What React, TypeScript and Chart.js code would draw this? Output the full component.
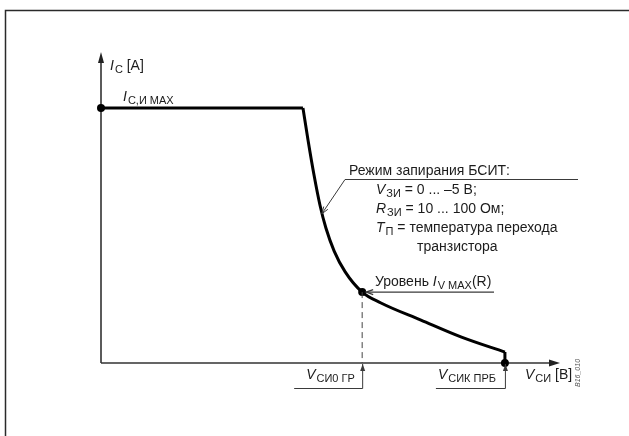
import React, { useEffect, useRef } from "react";
import { Chart, registerables } from "chart.js";

Chart.register(...registerables);

// Schematic data (axis units 0..100 on both axes)
const flatX = [0, 44.0];
const flatY = [82.0, 82.0];
const curveX = [44.0, 45.1, 46.4, 47.7, 49.0, 50.8, 53.2, 56.9, 61.0, 69.7, 78.4, 88.0];
const curveY = [82.0, 71.7, 60.5, 50.8, 43.4, 36.0, 29.3, 22.8, 19.3, 13.8, 8.4, 3.5];
const dropX = [88.0, 88.0];
const dropY = [3.5, 0];
const markerX = [0, 56.9, 88.0];
const markerY = [82.0, 22.8, 0];
const guideX = [56.9, 56.9];
const guideY = [22.8, 0];
const leaderTarget = [47.9, 48.0];
const axisMax = 100;

const FONT = '"Liberation Sans", Arial, sans-serif';
const TEXT = "#1c1c1c";

const pts = (xs: number[], ys: number[]) => xs.map((x, i) => ({ x, y: ys[i] }));

type Seg = { t: string; italic?: boolean; sub?: boolean };

function drawRich(ctx: CanvasRenderingContext2D, x: number, y: number, segs: Seg[], base = 14) {
  let cx = x;
  ctx.textBaseline = "alphabetic";
  ctx.textAlign = "left";
  ctx.fillStyle = TEXT;
  for (const s of segs) {
    const size = s.sub ? Math.round(base * 0.8) : base;
    ctx.font = `${s.italic ? "italic " : ""}${size}px ${FONT}`;
    ctx.fillText(s.t, cx, y + (s.sub ? 3 : 0));
    cx += ctx.measureText(s.t).width + (s.italic ? 1 : 0);
  }
}

function arrowHead(ctx: CanvasRenderingContext2D, tx: number, ty: number, fx: number, fy: number, len: number, half: number, filled: boolean) {
  const a = Math.atan2(ty - fy, tx - fx);
  const bx = tx - len * Math.cos(a);
  const by = ty - len * Math.sin(a);
  const px = -Math.sin(a) * half;
  const py = Math.cos(a) * half;
  ctx.beginPath();
  ctx.moveTo(bx + px, by + py);
  ctx.lineTo(tx, ty);
  ctx.lineTo(bx - px, by - py);
  if (filled) {
    ctx.closePath();
    ctx.fill();
  } else {
    ctx.stroke();
  }
}

const decor = {
  id: "decor",
  beforeDatasetsDraw(chart: any) {
    const ctx: CanvasRenderingContext2D = chart.ctx;
    const xs = chart.scales.x;
    const ys = chart.scales.y;
    const x0 = xs.getPixelForValue(0);
    const y0 = ys.getPixelForValue(0);
    const xm = xs.getPixelForValue(axisMax);
    const ym = ys.getPixelForValue(axisMax);
    ctx.save();
    // frame
    ctx.strokeStyle = "#2a2a2a";
    ctx.lineWidth = 1.5;
    ctx.beginPath();
    ctx.moveTo(5.5, 460);
    ctx.lineTo(5.5, 10.5);
    ctx.lineTo(660, 10.5);
    ctx.stroke();
    // axes
    ctx.strokeStyle = "#333";
    ctx.fillStyle = "#222";
    ctx.lineWidth = 1.6;
    ctx.beginPath();
    ctx.moveTo(x0, y0);
    ctx.lineTo(x0, ym + 6);
    ctx.moveTo(x0, y0);
    ctx.lineTo(xm - 6, y0);
    ctx.stroke();
    arrowHead(ctx, x0, ym, x0, y0, 11, 3, true);
    arrowHead(ctx, xm, y0, x0, y0, 11, 3.5, true);
    ctx.restore();
  },
  afterDatasetsDraw(chart: any) {
    const ctx: CanvasRenderingContext2D = chart.ctx;
    const xs = chart.scales.x;
    const ys = chart.scales.y;
    const x0 = xs.getPixelForValue(0);
    const y0 = ys.getPixelForValue(0);
    const xm = xs.getPixelForValue(axisMax);
    const ym = ys.getPixelForValue(axisMax);
    const yFlat = ys.getPixelForValue(flatY[0]);
    const gx = xs.getPixelForValue(guideX[0]);
    const gy = ys.getPixelForValue(guideY[0]);
    const ex = xs.getPixelForValue(dropX[0]);
    const lx = xs.getPixelForValue(leaderTarget[0]);
    const ly = ys.getPixelForValue(leaderTarget[1]);
    ctx.save();

    // axis labels
    drawRich(ctx, x0 + 9, ym + 18, [{ t: "I", italic: true }, { t: "C", sub: true }, { t: " [A]" }]);
    drawRich(ctx, x0 + 22, yFlat - 7, [{ t: "I", italic: true }, { t: "С,И MAX", sub: true }]);
    drawRich(ctx, xm - 35, y0 + 16, [{ t: "V", italic: true }, { t: "СИ", sub: true }, { t: " [В]" }]);

    // leader lines
    ctx.strokeStyle = "#3a3a3a";
    ctx.fillStyle = "#3a3a3a";
    ctx.lineWidth = 1;
    // Режим запирания
    const ux = 345, uy = 179.5;
    ctx.beginPath();
    ctx.moveTo(578, uy);
    ctx.lineTo(ux, uy);
    ctx.lineTo(lx + 1, ly);
    ctx.stroke();
    arrowHead(ctx, lx + 1, ly, ux, uy, 7, 2.5, false);
    // Уровень
    ctx.lineWidth = 1.3;
    ctx.beginPath();
    ctx.moveTo(494, gy);
    ctx.lineTo(gx + 4, gy);
    ctx.stroke();
    arrowHead(ctx, gx + 4, gy, 494, gy, 7, 2.5, false);
    // bottom markers
    ctx.lineWidth = 1;
    const by = y0 + 25.5;
    ctx.beginPath();
    ctx.moveTo(gx + 0.5, y0 + 1);
    ctx.lineTo(gx + 0.5, by);
    ctx.lineTo(gx - 68, by);
    ctx.moveTo(ex + 0.5, y0 + 1);
    ctx.lineTo(ex + 0.5, by);
    ctx.lineTo(ex - 69, by);
    ctx.stroke();
    arrowHead(ctx, gx + 0.5, y0 + 1, gx + 0.5, by, 7, 2.5, true);
    arrowHead(ctx, ex + 0.5, y0 + 1, ex + 0.5, by, 7, 2.5, true);

    // texts
    drawRich(ctx, 349, 175, [{ t: "Режим запирания БСИТ:" }]);
    drawRich(ctx, 376, 194, [{ t: "V", italic: true }, { t: "ЗИ", sub: true }, { t: " = 0 ... –5 В;" }]);
    drawRich(ctx, 376, 213, [{ t: "R", italic: true }, { t: "ЗИ", sub: true }, { t: " = 10 ... 100 Ом;" }]);
    drawRich(ctx, 376, 232, [{ t: "T", italic: true }, { t: "П", sub: true }, { t: " = температура перехода" }]);
    drawRich(ctx, 417, 251, [{ t: "транзистора" }]);
    drawRich(ctx, 375, 286, [{ t: "Уровень " }, { t: "I", italic: true }, { t: "V MAX", sub: true }, { t: "(R)" }]);
    drawRich(ctx, gx - 56, y0 + 16, [{ t: "V", italic: true }, { t: "СИ0 ГР", sub: true }]);
    drawRich(ctx, ex - 67, y0 + 16, [{ t: "V", italic: true }, { t: "СИК ПРБ", sub: true }]);

    // figure code
    ctx.save();
    ctx.translate(xm + 20, y0 + 24);
    ctx.rotate(-Math.PI / 2);
    ctx.font = `italic 7px ${FONT}`;
    ctx.fillStyle = "#555";
    ctx.fillText("B16_010", 0, 0);
    ctx.restore();

    ctx.restore();
  },
};

export default function App() {
  const ref = useRef<HTMLCanvasElement | null>(null);
  useEffect(() => {
    if (!ref.current) return;
    const chart = new Chart(ref.current, {
      type: "line",
      data: {
        datasets: [
          {
            data: pts(guideX, guideY),
            borderColor: "#444",
            borderWidth: 1,
            borderDash: [6, 4],
            pointRadius: 0,
            tension: 0,
          },
          {
            data: pts(flatX, flatY),
            borderColor: "#000",
            borderWidth: 3,
            pointRadius: 0,
            tension: 0,
          },
          {
            data: pts(curveX, curveY),
            borderColor: "#000",
            borderWidth: 3,
            pointRadius: 0,
            cubicInterpolationMode: "monotone",
          },
          {
            data: pts(dropX, dropY),
            borderColor: "#000",
            borderWidth: 3,
            pointRadius: 0,
            tension: 0,
          },
          {
            data: pts(markerX, markerY),
            showLine: false,
            pointRadius: 4,
            pointBackgroundColor: "#000",
            pointBorderColor: "#000",
            pointBorderWidth: 0,
          },
        ] as any,
      },
      options: {
        animation: false,
        responsive: false,
        devicePixelRatio: 1,
        clip: false as any,
        layout: { padding: { left: 101, right: 69, top: 52, bottom: 73 } },
        scales: {
          x: { type: "linear", min: 0, max: axisMax, display: false },
          y: { type: "linear", min: 0, max: axisMax, display: false },
        },
        plugins: { legend: { display: false }, tooltip: { enabled: false } },
      },
      plugins: [decor],
    });
    return () => chart.destroy();
  }, []);
  return (
    <div style={{ position: "fixed", left: 0, top: 0, width: 629, height: 436, background: "#fff" }}>
      <canvas ref={ref} width={629} height={436} style={{ display: "block" }} />
    </div>
  );
}
